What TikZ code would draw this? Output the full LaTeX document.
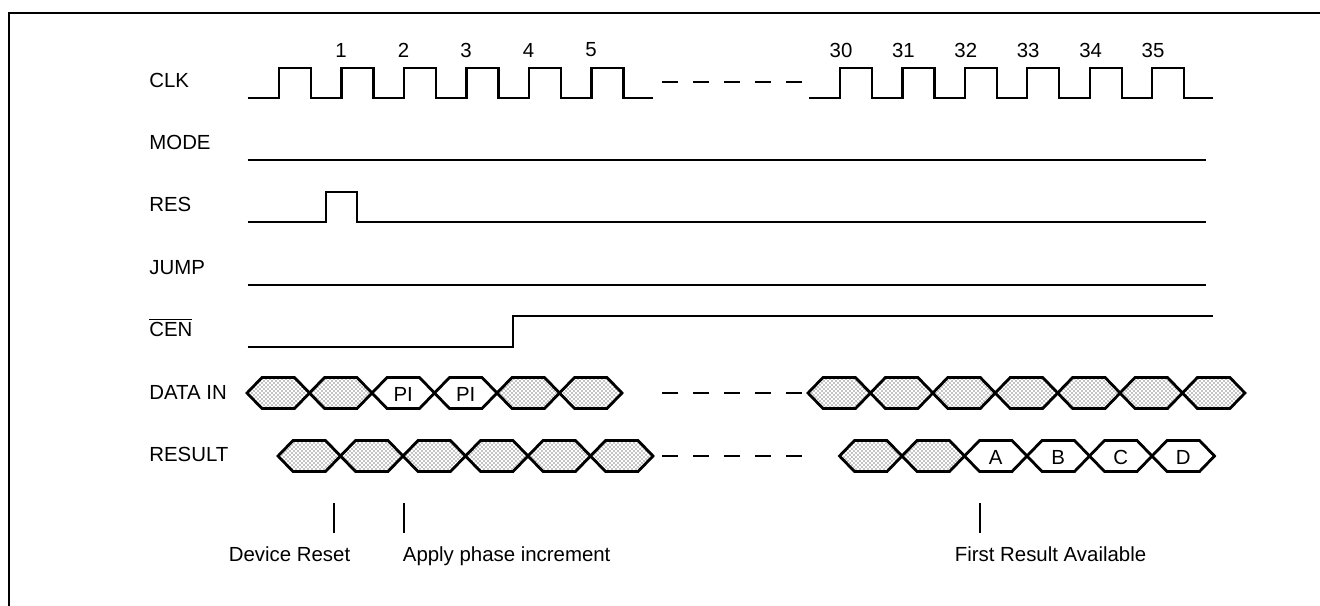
\documentclass[tikz,border=0pt]{standalone}
\usepackage{fontspec}
\setmainfont{Liberation Sans}
\usetikzlibrary{patterns}
\pgfdeclarepatternformonly{stipple}{\pgfqpoint{-0.5pt}{-0.5pt}}{\pgfqpoint{2.5pt}{2.5pt}}{\pgfqpoint{2pt}{2pt}}{
    \pgfpathcircle{\pgfqpoint{0pt}{0pt}}{0.34pt}
    \pgfpathcircle{\pgfqpoint{1pt}{1pt}}{0.34pt}
    \pgfusepath{fill}
}
\newcommand{\hexcell}[5]{
    \draw[hexline,#4] (#2,#3) -- ++(15,-15.5) -- ++(32.5,0) -- ++(15,15.5) -- ++(-15,15.5) -- ++(-32.5,0) -- cycle;
    \node[lab,anchor=center] (#1) at ({#2+31.25},{#3+1}) {#5};
}
\newcommand{\clockrun}[4]{
    \draw[sig] (#1,98) \foreach \k in {0,...,5} { -- ({#2+#3*\k},98) -- ++(0,-30) -- ++(32,0) -- ++(0,30) } -- (#4,98);
}

\begin{document}
\begin{tikzpicture}[x=0.5pt,y=-0.5pt,
        sig/.style={line width=1.1pt},
        hexline/.style={line width=1.4pt, line join=miter},
        dots/.style={pattern=stipple},
        tick/.style={line width=1pt},
        gap/.style={sig, dash pattern=on 8pt off 7.5pt},
        lab/.style={anchor=base west, inner sep=0pt, font=\fontsize{10.2}{12}\selectfont}]
    \useasboundingbox (0,0) rectangle (1320,605);
    \draw[line width=1.3pt] (9,606) -- (9,13) -- (1321,13); % frame

    % signal names
    \node[lab] (clk) at (149,87) {CLK};
    \node[lab] (mode) at (149,149) {MODE};
    \node[lab] (res) at (149,211) {RES};
    \node[lab] (jump) at (149,274) {JUMP};
    \node[lab] (cen) at (149,336) {$\overline{\mbox{CEN}}$};
    \node[lab] (din) at (149,399) {DATA IN};
    \node[lab] (result) at (149,461) {RESULT};

    % clock
    \clockrun{247.5}{279}{62.5}{653}
    \clockrun{809}{840}{62.4}{1213}
    \draw[gap] (662,82) -- (802,82);
    \foreach \n [count=\i from 0] in {1,...,5}
        \node[lab,anchor=center] (c\n) at ({341+62.5*\i},50) {\n};
    \foreach \n [count=\i from 0] in {30,...,35}
        \node[lab,anchor=center] (c\n) at ({841+62.4*\i},50) {\n};

    \draw[sig] (247.5,160) -- (1206,160);
    \draw[sig] (247.5,222) -- (326,222) -- (326,192) -- (357,192) -- (357,222) -- (1206,222);
    \draw[sig] (247.5,285) -- (1206,285);
    \draw[sig] (247.5,347) -- (513,347) -- (513,316) -- (1213,316);

    % data in
    \foreach \k in {0,1,4,5} {
        \hexcell{d\k}{247+62.5*\k}{393}{dots}{}
    }
    \hexcell{pi1}{372}{393}{}{PI}
    \hexcell{pi2}{434.5}{393}{}{PI}
    \draw[gap] (662,393) -- (802,393);
    \foreach \k in {0,...,6} {
        \hexcell{e\k}{808+62.4*\k}{393}{dots}{}
    }

    % result
    \foreach \k in {0,...,5} {
        \hexcell{r\k}{278+62.5*\k}{456}{dots}{}
    }
    \draw[gap] (662,456) -- (802,456);
    \hexcell{s0}{839.5}{456}{dots}{}
    \hexcell{s1}{902}{456}{dots}{}
    \foreach \t [count=\i from 2] in {A,B,C,D} {
        \hexcell{s\i}{839.5+62.5*\i}{456}{}{\t}
    }

    % markers
    \draw[tick] (334,503) -- (334,533);
    \draw[tick] (404,503) -- (404,533);
    \draw[tick] (980,503) -- (980,533);
    \node[lab] (reset) at (228.5,561) {Device Reset};
    \node[lab] (apply) at (402.5,561) {Apply phase increment};
    \node[lab] (first) at (954.5,561) {First Result Available};
\end{tikzpicture}
\end{document}
